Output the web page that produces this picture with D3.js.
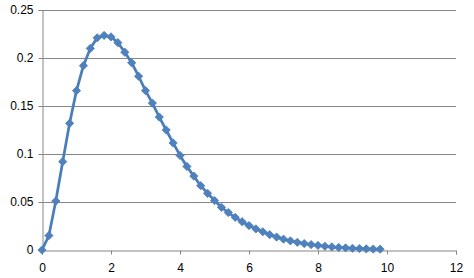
<!DOCTYPE html>
<html>
<head>
<meta charset="utf-8">
<script src="https://cdn.jsdelivr.net/npm/d3@7"></script>
<style>
  body { margin: 0; background: #fff; }
  text { font-family: "Liberation Sans", Arial, sans-serif; font-size: 12px; fill: #000; }
</style>
</head>
<body>
<svg width="474" height="278"></svg>
<script>
var xValues = [0, 0.2, 0.4, 0.6, 0.8, 1, 1.2, 1.4, 1.6, 1.8,
  2, 2.2, 2.4, 2.6, 2.8, 3, 3.2, 3.4, 3.6, 3.8,
  4, 4.2, 4.4, 4.6, 4.8, 5, 5.2, 5.4, 5.6, 5.8,
  6, 6.2, 6.4, 6.6, 6.8, 7, 7.2, 7.4, 7.6, 7.8,
  8, 8.2, 8.4, 8.6, 8.8, 9, 9.2, 9.4, 9.6, 9.8];
var yValues = [0, 0.015, 0.051, 0.092, 0.132, 0.166, 0.192, 0.210, 0.221, 0.2235,
  0.222, 0.216, 0.206, 0.195, 0.181, 0.166, 0.153, 0.1385, 0.125, 0.1115,
  0.0985, 0.087, 0.077, 0.067, 0.059, 0.0515, 0.0445, 0.039, 0.034, 0.0295,
  0.0255, 0.022, 0.019, 0.016, 0.0135, 0.0113, 0.0095, 0.008, 0.0067, 0.0056,
  0.0047, 0.0039, 0.0032, 0.0027, 0.0022, 0.0018, 0.0015, 0.0012, 0.001, 0.0008];
var xTicks = [0, 2, 4, 6, 8, 10, 12];
var yTicks = [0, 0.05, 0.1, 0.15, 0.2, 0.25];

var svg = d3.select("svg"),
    margin = { top: 10, right: 18, bottom: 28, left: 42 },
    width = +svg.attr("width") - margin.left - margin.right,
    height = +svg.attr("height") - margin.top - margin.bottom;

var g = svg.append("g").attr("transform", "translate(" + margin.left + "," + margin.top + ")");

var x = d3.scaleLinear().domain([0, 12]).range([0, width]);
var y = d3.scaleLinear().domain([0, 0.25]).range([height, 0]);

var data = xValues.map(function (d, i) { return { x: d, y: yValues[i] }; });

// gridlines
g.selectAll(".grid")
  .data(yTicks.slice(1))
  .enter().append("line")
  .attr("x1", 0).attr("x2", width)
  .attr("y1", function (d) { return Math.round(y(d)) + 0.5; })
  .attr("y2", function (d) { return Math.round(y(d)) + 0.5; })
  .attr("stroke", "#868686");

// y axis
var yAxis = g.append("g")
  .attr("transform", "translate(0.5,0)")
  .call(d3.axisLeft(y).tickValues(yTicks).tickSize(4).tickPadding(5)
    .tickFormat(function (d) { return d === 0 ? "0" : d3.format("")(+d.toFixed(2)); }));

// x axis
var xAxis = g.append("g")
  .attr("transform", "translate(0," + (height + 0.5) + ")")
  .call(d3.axisBottom(x).tickValues(xTicks).tickSize(4).tickPadding(9));

[yAxis, xAxis].forEach(function (a) {
  a.select(".domain").attr("stroke", "#868686");
  a.selectAll(".tick line").attr("stroke", "#868686");
  a.selectAll("text").attr("font-family", null).attr("font-size", null);
});
xAxis.select(".tick:first-child text").attr("dx", 0);

// series line
var line = d3.line().x(function (d) { return x(d.x); }).y(function (d) { return y(d.y); });
g.append("path")
  .datum(data)
  .attr("d", line)
  .attr("fill", "none")
  .attr("stroke", "#4a7ebb")
  .attr("stroke-width", 2.75)
  .attr("stroke-linejoin", "round");

// diamond markers
var diamond = d3.symbol().type(d3.symbolSquare).size(34);
g.selectAll(".pt")
  .data(data)
  .enter().append("path")
  .attr("d", diamond)
  .attr("transform", function (d) { return "translate(" + x(d.x) + "," + y(d.y) + ") rotate(45)"; })
  .attr("fill", "#4f81bd")
  .attr("stroke", "#4a7ebb")
  .attr("stroke-width", 0.75);
</script>
</body>
</html>
